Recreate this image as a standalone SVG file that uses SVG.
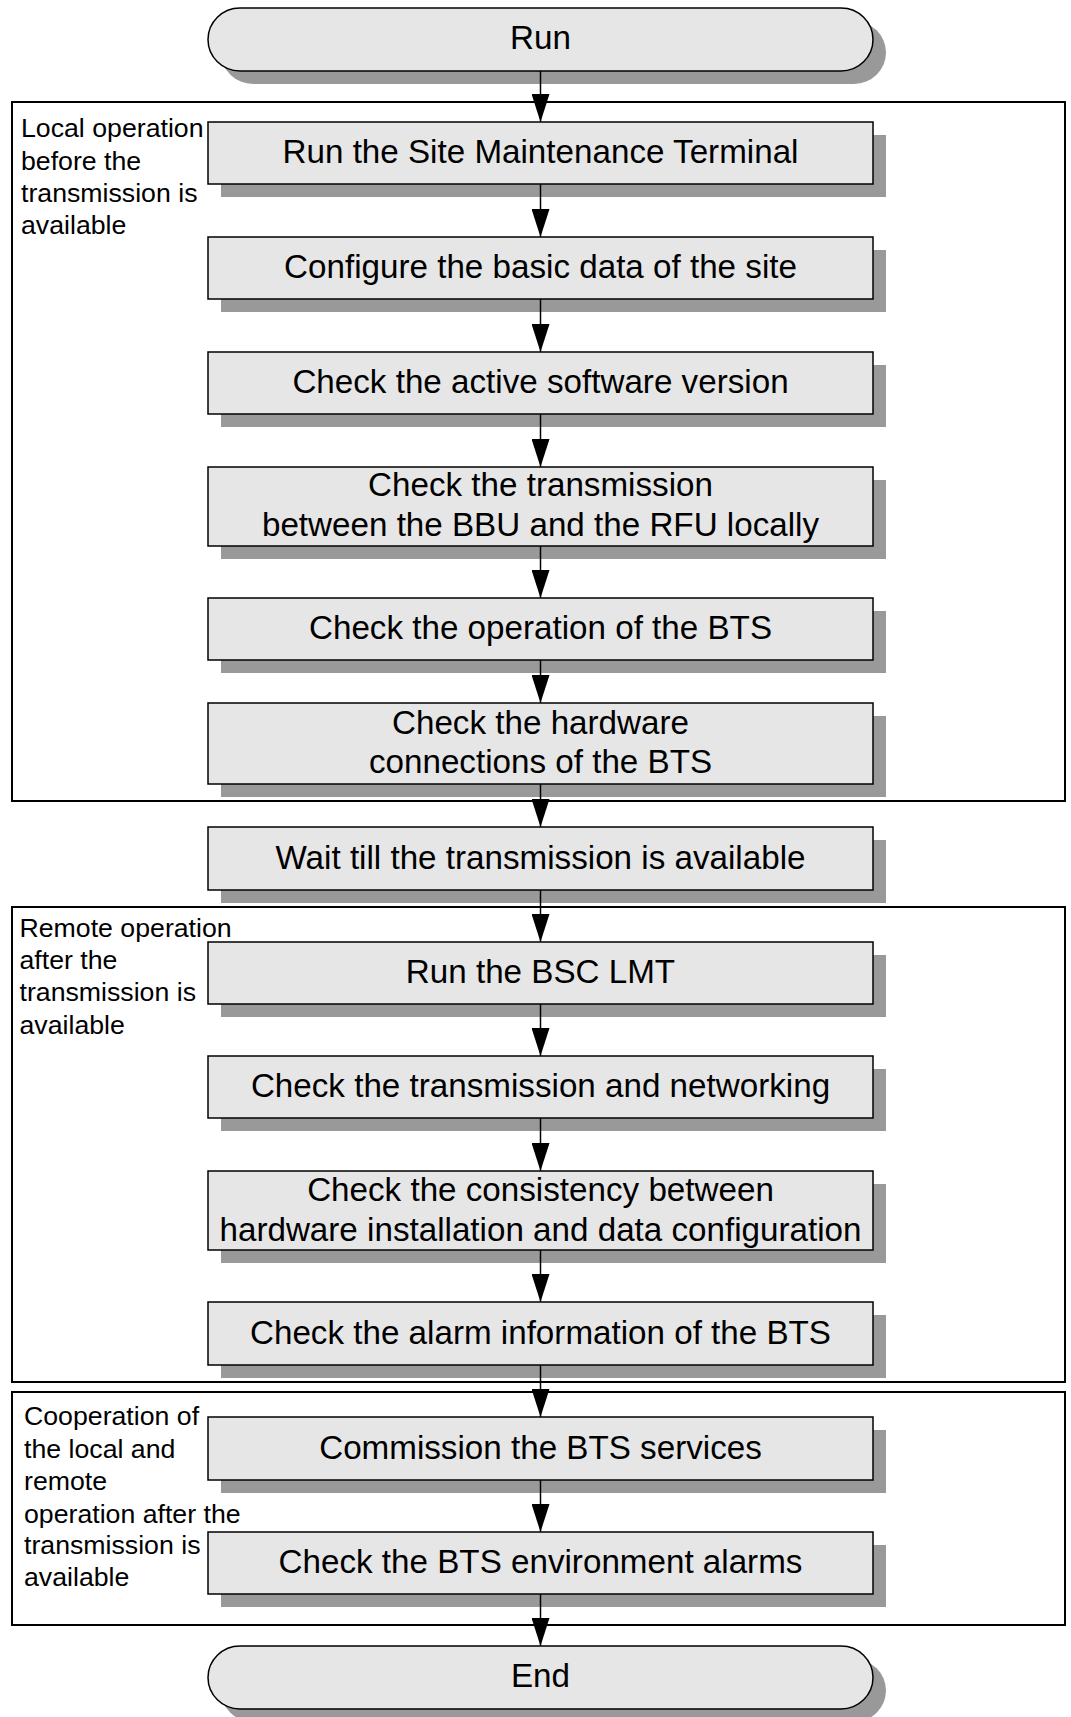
<svg xmlns="http://www.w3.org/2000/svg" width="1071" height="1717" viewBox="0 0 1071 1717">
<defs>
<style>
.sec{fill:none;stroke:#000;stroke-width:2}
.box{fill:#e6e6e6;stroke:#000;stroke-width:1.5}
.sh{fill:#999}
.t{font-family:"Liberation Sans",Arial,sans-serif;font-size:33.2px;fill:#000;text-anchor:middle}
.lb{font-family:"Liberation Sans",Arial,sans-serif;font-size:26.7px;fill:#000}
.c{stroke:#000;stroke-width:1.5;fill:none;marker-end:url(#ah)}
</style>
<marker id="ah" markerUnits="userSpaceOnUse" markerWidth="28" markerHeight="18" refX="28" refY="9" orient="auto">
<path d="M0,0 L28,9 L0,18 z" fill="#000"/>
</marker>
</defs>
<g id="sections">
<rect class="sec" x="12" y="102" width="1053" height="699"/>
<rect class="sec" x="12" y="907" width="1053" height="475"/>
<rect class="sec" x="12" y="1392" width="1053" height="233"/>
<text class="lb" x="21"><tspan x="21" y="137">Local operation</tspan><tspan x="21" y="169.5">before the</tspan><tspan x="21" y="202">transmission is</tspan><tspan x="21" y="234">available</tspan></text>
<text class="lb" x="19.5"><tspan x="19.5" y="937">Remote operation</tspan><tspan x="19.5" y="969">after the</tspan><tspan x="19.5" y="1001">transmission is</tspan><tspan x="19.5" y="1033.5">available</tspan></text>
<text class="lb" x="24"><tspan x="24" y="1425">Cooperation of</tspan><tspan x="24" y="1458">the local and</tspan><tspan x="24" y="1490">remote</tspan><tspan x="24" y="1522.5">operation after the</tspan><tspan x="24" y="1554">transmission is</tspan><tspan x="24" y="1586">available</tspan></text>
</g>
<g id="n-run"><rect class="sh" x="221" y="21" width="665" height="63" rx="32" ry="31.5"/><rect class="box" x="208" y="8" width="665" height="63" rx="32" ry="31.5"/><text class="t" x="540.5" y="49">Run</text></g>
<g id="n1"><rect class="sh" x="221" y="135" width="665" height="62"/><rect class="box" x="208" y="122" width="665" height="62"/><text class="t" x="540.5" y="163">Run the Site Maintenance Terminal</text></g>
<g id="n2"><rect class="sh" x="221" y="250" width="665" height="62"/><rect class="box" x="208" y="237" width="665" height="62"/><text class="t" x="540.5" y="278">Configure the basic data of the site</text></g>
<g id="n3"><rect class="sh" x="221" y="365" width="665" height="62"/><rect class="box" x="208" y="352" width="665" height="62"/><text class="t" x="540.5" y="393">Check the active software version</text></g>
<g id="n4"><rect class="sh" x="221" y="480" width="665" height="79"/><rect class="box" x="208" y="467" width="665" height="79"/><text class="t" x="540.5"><tspan x="540.5" y="496">Check the transmission</tspan><tspan x="540.5" y="536">between the BBU and the RFU locally</tspan></text></g>
<g id="n5"><rect class="sh" x="221" y="611" width="665" height="62"/><rect class="box" x="208" y="598" width="665" height="62"/><text class="t" x="540.5" y="639">Check the operation of the BTS</text></g>
<g id="n6"><rect class="sh" x="221" y="716" width="665" height="81"/><rect class="box" x="208" y="703" width="665" height="81"/><text class="t" x="540.5"><tspan x="540.5" y="733.5">Check the hardware</tspan><tspan x="540.5" y="773">connections of the BTS</tspan></text></g>
<g id="n7"><rect class="sh" x="221" y="840" width="665" height="63"/><rect class="box" x="208" y="827" width="665" height="63"/><text class="t" x="540.5" y="868.5">Wait till the transmission is available</text></g>
<g id="n8"><rect class="sh" x="221" y="955" width="665" height="62"/><rect class="box" x="208" y="942" width="665" height="62"/><text class="t" x="540.5" y="983">Run the BSC LMT</text></g>
<g id="n9"><rect class="sh" x="221" y="1069" width="665" height="62"/><rect class="box" x="208" y="1056" width="665" height="62"/><text class="t" x="540.5" y="1097">Check the transmission and networking</text></g>
<g id="n10"><rect class="sh" x="221" y="1184" width="665" height="79"/><rect class="box" x="208" y="1171" width="665" height="79"/><text class="t" x="540.5"><tspan x="540.5" y="1200.5">Check the consistency between</tspan><tspan x="540.5" y="1240.5">hardware installation and data configuration</tspan></text></g>
<g id="n11"><rect class="sh" x="221" y="1315" width="665" height="63"/><rect class="box" x="208" y="1302" width="665" height="63"/><text class="t" x="540.5" y="1343.5">Check the alarm information of the BTS</text></g>
<g id="n12"><rect class="sh" x="221" y="1430" width="665" height="63"/><rect class="box" x="208" y="1417" width="665" height="63"/><text class="t" x="540.5" y="1458.5">Commission the BTS services</text></g>
<g id="n13"><rect class="sh" x="221" y="1545" width="665" height="62"/><rect class="box" x="208" y="1532" width="665" height="62"/><text class="t" x="540.5" y="1573">Check the BTS environment alarms</text></g>
<g id="n-end"><rect class="sh" x="221" y="1659" width="665" height="63" rx="32" ry="31.5"/><rect class="box" x="208" y="1646" width="665" height="63" rx="32" ry="31.5"/><text class="t" x="540.5" y="1687">End</text></g>
<g id="connectors">
<line class="c" x1="540.5" y1="71" x2="540.5" y2="122"/>
<line class="c" x1="540.5" y1="184" x2="540.5" y2="237"/>
<line class="c" x1="540.5" y1="299" x2="540.5" y2="352"/>
<line class="c" x1="540.5" y1="414" x2="540.5" y2="467"/>
<line class="c" x1="540.5" y1="546" x2="540.5" y2="598"/>
<line class="c" x1="540.5" y1="660" x2="540.5" y2="703"/>
<line class="c" x1="540.5" y1="784" x2="540.5" y2="827"/>
<line class="c" x1="540.5" y1="890" x2="540.5" y2="942"/>
<line class="c" x1="540.5" y1="1004" x2="540.5" y2="1056"/>
<line class="c" x1="540.5" y1="1118" x2="540.5" y2="1171"/>
<line class="c" x1="540.5" y1="1250" x2="540.5" y2="1302"/>
<line class="c" x1="540.5" y1="1365" x2="540.5" y2="1417"/>
<line class="c" x1="540.5" y1="1480" x2="540.5" y2="1532"/>
<line class="c" x1="540.5" y1="1594" x2="540.5" y2="1646"/>
</g>
</svg>
